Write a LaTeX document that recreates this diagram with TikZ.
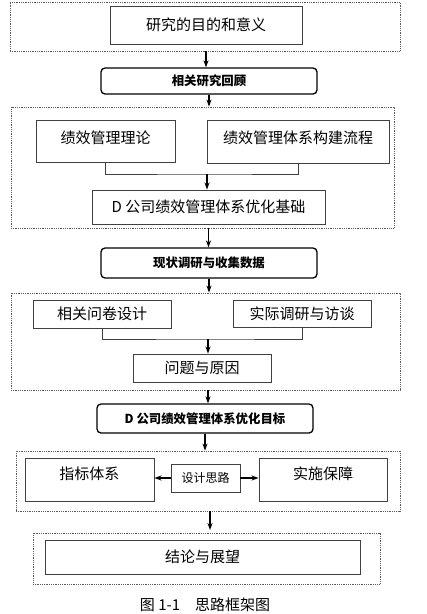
\documentclass[tikz,border=0pt]{standalone}
\usepackage{fontspec}
\setmainfont{Noto Sans CJK SC}
\usetikzlibrary{positioning,arrows.meta}

\begin{document}
\begin{tikzpicture}[
  x=1pt, y=-1pt,
  box/.style={draw=black!75, line width=0.9pt, rectangle, inner sep=0pt, font=\fontsize{15}{15}\selectfont},
  stage/.style={draw=black, line width=1.3pt, rounded corners=4pt, inner sep=0pt, font=\bfseries\fontsize{12.4}{13}\selectfont},
  group/.style={draw=black!65, densely dotted, line width=0.8pt, inner sep=0pt},
  arrow/.style={-{Stealth[length=7pt,width=5pt]}, line width=1.3pt},
  link/.style={draw=black!75, line width=0.9pt}
]
\useasboundingbox[fill=white] (0,0) rectangle (427,614);

% groups
\node[group, minimum width=390pt, minimum height=49pt] (group0) at (205,26.5) {};
\node[group, minimum width=383pt, minimum height=121pt] (group1) at (202.5,167.5) {};
\node[group, minimum width=389pt, minimum height=97pt] (group2) at (205.5,341.5) {};
\node[group, minimum width=384pt, minimum height=60pt] (group3) at (208,481) {};
\node[group, minimum width=347pt, minimum height=51pt] (group4) at (206.5,558.5) {};

% boxes
\node[box, minimum width=192pt, minimum height=38pt] (purpose) at (206,25) {研究的目的和意义};
\node[stage, minimum width=216pt, minimum height=26pt] (review) at (209,81) {相关研究回顾};
\node[box, minimum width=139pt, minimum height=42pt, text depth=8pt] (theory) at (105.5,141) {绩效管理理论};
\node[box, minimum width=182pt, minimum height=43pt, text depth=8pt] (process) at (298,141.5) {绩效管理体系构建流程};
\node[box, minimum width=233pt, minimum height=34pt] (basis) at (208.5,207) {D 公司绩效管理体系优化基础};
\node[stage, minimum width=216pt, minimum height=30pt] (survey) at (209,263) {现状调研与收集数据};
\node[box, minimum width=138pt, minimum height=28pt] (quest) at (102,314) {相关问卷设计};
\node[box, minimum width=138pt, minimum height=27pt] (visit) at (302,313.5) {实际调研与访谈};
\node[box, minimum width=138pt, minimum height=28pt] (cause) at (202,368) {问题与原因};
\node[stage, minimum width=216pt, minimum height=29pt] (target) at (205,418.5) {D 公司绩效管理体系优化目标};
\node[box, minimum width=129pt, minimum height=43pt, text depth=12pt] (index) at (89.5,479.5) {指标体系};
\node[box, minimum width=69pt, minimum height=28pt, font=\fontsize{12}{12}\selectfont] (idea) at (205.5,478) {设计思路};
\node[box, minimum width=128pt, minimum height=43pt, text depth=12pt] (guard) at (323,479.5) {实施保障};
\node[box, minimum width=315pt, minimum height=34pt] (result) at (202.5,557) {结论与展望};
\node[font=\fontsize{15}{15}\selectfont] (caption) at (205,605) {图 1-1\quad 思路框架图};

% connectors
\coordinate (join1) at (207,174);
\coordinate (join2) at (208,339);
\draw[arrow] (purpose |- group0.south) -- (purpose |- review.north);
\draw[arrow] (review.south) -- (review |- group1.north);
\draw[link] (theory.south) |- (join1) -| (process.south);
\draw[arrow] (join1) -- (join1 |- basis.north);
\draw[arrow] (basis |- group1.south) -- (basis |- survey.north);
\draw[arrow] (survey.south) -- (survey |- group2.north);
\draw[link] (quest.south) |- (join2) -| (visit.south);
\draw[arrow] (join2) -- (join2 |- cause.north);
\draw[arrow] (join2 |- group2.south) -- (join2 |- target.north);
\draw[arrow] (target.south) -- (target |- group3.north);
\draw[arrow] (idea.west) -- (index.east |- idea.west);
\draw[arrow] (idea.east) -- (guard.west |- idea.east);
\draw[arrow] (group3.south -| 210,0) -- (210,530);
\end{tikzpicture}
\end{document}
